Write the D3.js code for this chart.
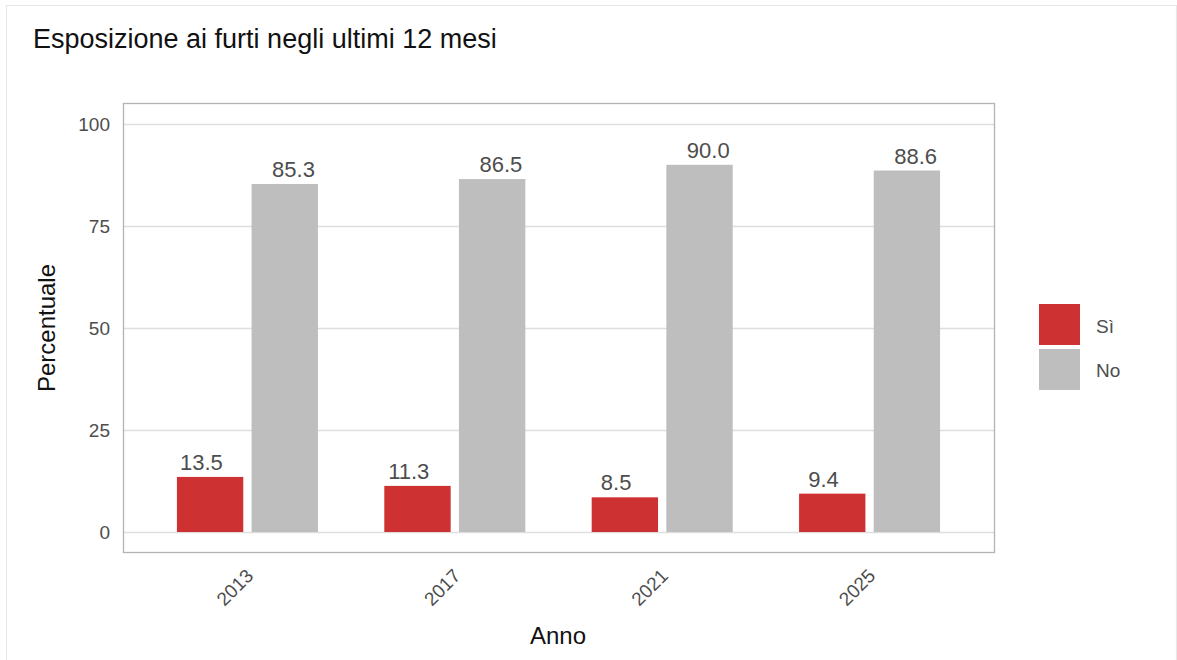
<!DOCTYPE html>
<html><head><meta charset="utf-8">
<script src="https://cdn.jsdelivr.net/npm/d3@7"></script>
<style>body{margin:0;background:#fff}svg{display:block;font-family:"Liberation Sans",Arial,sans-serif}</style>
</head><body>
<script>
const years = ["2013","2017","2021","2025"];
const seriesNames = ["Sì","No"];
const si = [13.5, 11.3, 8.5, 9.4];
const no = [85.3, 86.5, 90.0, 88.6];
const yTicks = [0,25,50,75,100];
const colors = ["#CD3131","#BEBEBE"];

const W=1177,H=660;
const svg=d3.select("body").append("svg").attr("width",W).attr("height",H);
// outer frame
svg.append("path").attr("d",`M6.5,${H} V5.5 H1176.5 V${H}`).attr("fill","none").attr("stroke","#e8e8e8").attr("stroke-width",1.2);

const P={l:123,r:994,t:103,b:552};
const x=d3.scaleBand().domain(years).range([P.l,P.r]).paddingOuter(0.1).paddingInner(0);
// emulate ggplot discrete expansion: step = width/4.2
const step=(P.r-P.l)/4.2;
const cx=i=>P.l+(0.6+i)*step;
const y=d3.scaleLinear().domain([0,100]).range([532,124]);

// gridlines
svg.append("g").selectAll("line").data(yTicks).join("line")
  .attr("x1",P.l).attr("x2",P.r).attr("y1",d=>y(d)+0.5).attr("y2",d=>y(d)+0.5)
  .attr("stroke","#dedede").attr("stroke-width",1.3);

const data=[];
years.forEach((yr,i)=>{
  data.push({i,s:0,v:si[i]});
  data.push({i,s:1,v:no[i]});
});
const barOff=0.18*step, barW=0.32*step, lblOff=0.222*step;
svg.append("g").selectAll("rect").data(data).join("rect")
  .attr("x",d=>cx(d.i)+(d.s?1:-1)*barOff-barW/2)
  .attr("width",barW)
  .attr("y",d=>y(d.v)).attr("height",d=>y(0)-y(d.v))
  .attr("fill",d=>colors[d.s]);

svg.append("g").selectAll("text").data(data).join("text")
  .attr("x",d=>cx(d.i)+(d.s?1:-1)*lblOff)
  .attr("y",d=>y(d.v)-7)
  .attr("text-anchor","middle").attr("font-size",22).attr("fill","#4d4d4d")
  .text(d=>d.v.toFixed(1));

// panel border
svg.append("rect").attr("x",P.l+0.5).attr("y",P.t+0.5).attr("width",P.r-P.l).attr("height",P.b-P.t)
  .attr("fill","none").attr("stroke","#b3b3b3").attr("stroke-width",1.3);

// y tick labels
svg.append("g").selectAll("text").data(yTicks).join("text")
  .attr("x",110).attr("y",d=>y(d)).attr("dy","0.36em")
  .attr("text-anchor","end").attr("font-size",19).attr("fill","#4d4d4d").text(d=>d);

// x tick labels
svg.append("g").selectAll("text").data(years).join("text")
  .attr("transform",(d,i)=>`translate(${cx(i)+7},577) rotate(-45)`)
  .attr("text-anchor","end").attr("font-size",19).attr("fill","#4d4d4d").text(d=>d);

// axis titles
svg.append("text").attr("x",558).attr("y",644).attr("text-anchor","middle").attr("font-size",24).attr("fill","#111").text("Anno");
svg.append("text").attr("transform","translate(55,328) rotate(-90)").attr("text-anchor","middle").attr("font-size",24).attr("fill","#111").text("Percentuale");

// title
svg.append("text").attr("x",33).attr("y",48).attr("font-size",27).attr("fill","#111").text("Esposizione ai furti negli ultimi 12 mesi");

// legend
const lg=svg.append("g");
seriesNames.forEach((n,k)=>{
  lg.append("rect").attr("x",1039).attr("y",304+k*45).attr("width",41).attr("height",41).attr("fill",colors[k]);
  lg.append("text").attr("x",1096).attr("y",333+k*44).attr("font-size",19).attr("fill","#4d4d4d").text(n);
});
</script>
</body></html>
